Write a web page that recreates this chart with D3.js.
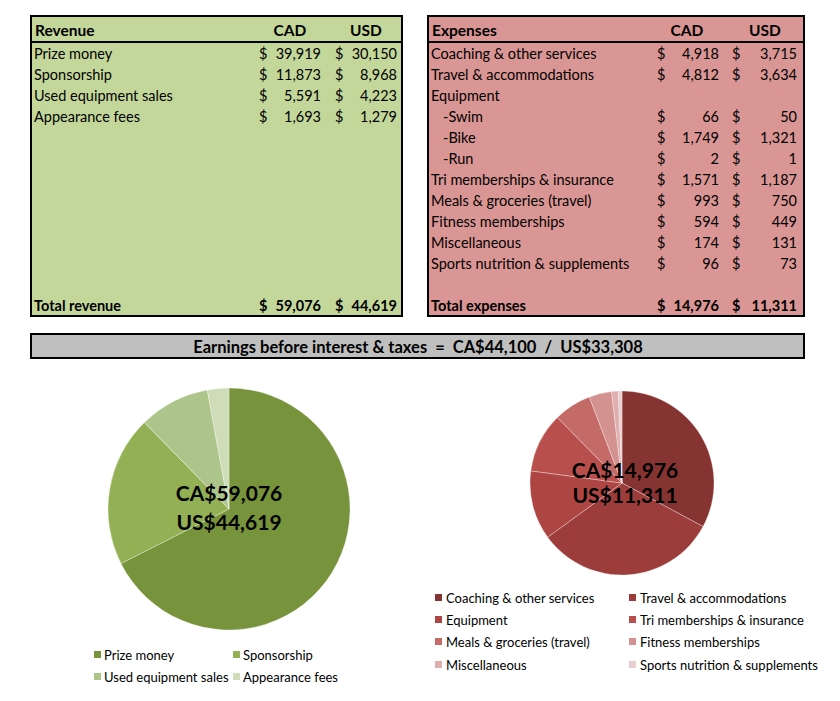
<!DOCTYPE html>
<html>
<head>
<meta charset="utf-8">
<script src="https://cdn.jsdelivr.net/npm/d3@7"></script>
<style>
html,body{margin:0;padding:0;background:#fff;}
svg{display:block;font-family:Lato, "Noto Sans", sans-serif;}
</style>
</head>
<body>
<svg id="chart" width="840" height="701"></svg>
<script>
// ---- data ----
const revenueCategories = ["Prize money","Sponsorship","Used equipment sales","Appearance fees"];
const revenueCAD = [39919, 11873, 5591, 1693];
const revenueUSD = [30150, 8968, 4223, 1279];
const revenueTotalCAD = 59076;
const revenueTotalUSD = 44619;

const expenseRows = ["Coaching & other services","Travel & accommodations","Equipment","-Swim","-Bike","-Run",
  "Tri memberships & insurance","Meals & groceries (travel)","Fitness memberships","Miscellaneous","Sports nutrition & supplements"];
const expenseRowCAD = [4918, 4812, null, 66, 1749, 2, 1571, 993, 594, 174, 96];
const expenseRowUSD = [3715, 3634, null, 50, 1321, 1, 1187, 750, 449, 131, 73];
const expenseRowIndent = [0,0,0,1,1,1,0,0,0,0,0];
const expenseTotalCAD = 14976;
const expenseTotalUSD = 11311;

const expenseCategories = ["Coaching & other services","Travel & accommodations","Equipment","Tri memberships & insurance",
  "Meals & groceries (travel)","Fitness memberships","Miscellaneous","Sports nutrition & supplements"];
const expenseCAD = [4918, 4812, 1817, 1571, 993, 594, 174, 96];

const ebitCAD = 44100;
const ebitUSD = 33308;

const revenueColors = ["#77933c","#93b154","#adc58a","#cfdcb8"];
const expenseColors = ["#863432","#9c3d3b","#ad4643","#b94f4c","#c46a67","#d39290","#ddafad","#e9cecd"];

// ---- drawing ----
const svg = d3.select("#chart");
const fmt = d3.format(",");

function drawTable(x0, x1, bg, title, rows, cad, usd, indent, totalLabel, totCAD, totUSD, cols) {
  const g = svg.append("g");
  g.append("rect").attr("x", x0).attr("y", 16).attr("width", x1 - x0).attr("height", 300)
    .attr("fill", bg).attr("stroke", "#000").attr("stroke-width", 2);
  g.append("line").attr("x1", x0).attr("x2", x1).attr("y1", 42).attr("y2", 42)
    .attr("stroke", "#000").attr("stroke-width", 2);
  const ty = 36;
  g.append("text").attr("x", x0 + 4).attr("y", ty).attr("font-weight", "bold").attr("font-size", 15.5).text(title);
  g.append("text").attr("x", cols.cadHead).attr("y", ty).attr("text-anchor", "middle").attr("font-weight", "bold").attr("font-size", 15.5).text("CAD");
  g.append("text").attr("x", cols.usdHead).attr("y", ty).attr("text-anchor", "middle").attr("font-weight", "bold").attr("font-size", 15.5).text("USD");
  const yScale = d3.scaleBand().domain(d3.range(11)).range([43, 274]);
  rows.forEach((r, i) => {
    const y = yScale(i) + yScale.bandwidth() / 2 + 5;
    g.append("text").attr("x", x0 + 3 + (indent[i] ? 12 : 0)).attr("y", y).attr("font-size", 14.5).text(r);
    if (cad[i] != null) {
      g.append("text").attr("x", cols.cad$).attr("y", y).attr("font-size", 14.5).text("$");
      g.append("text").attr("x", cols.cadR).attr("y", y).attr("text-anchor", "end").attr("font-size", 14.5).text(fmt(cad[i]));
      g.append("text").attr("x", cols.usd$).attr("y", y).attr("font-size", 14.5).text("$");
      g.append("text").attr("x", cols.usdR).attr("y", y).attr("text-anchor", "end").attr("font-size", 14.5).text(fmt(usd[i]));
    }
  });
  const yt = 311;
  g.append("text").attr("x", x0 + 3).attr("y", yt).attr("font-weight", "bold").attr("font-size", 14.5).text(totalLabel);
  g.append("text").attr("x", cols.cad$).attr("y", yt).attr("font-weight", "bold").attr("font-size", 14.5).text("$");
  g.append("text").attr("x", cols.cadR).attr("y", yt).attr("text-anchor", "end").attr("font-weight", "bold").attr("font-size", 14.5).text(fmt(totCAD));
  g.append("text").attr("x", cols.usd$).attr("y", yt).attr("font-weight", "bold").attr("font-size", 14.5).text("$");
  g.append("text").attr("x", cols.usdR).attr("y", yt).attr("text-anchor", "end").attr("font-weight", "bold").attr("font-size", 14.5).text(fmt(totUSD));
}

drawTable(31, 402, "#c4d79b", "Revenue", revenueCategories, revenueCAD, revenueUSD, [0,0,0,0],
  "Total revenue", revenueTotalCAD, revenueTotalUSD,
  {cadHead: 290, usdHead: 366, cad$: 259, cadR: 321, usd$: 335, usdR: 397});
drawTable(428, 804, "#da9694", "Expenses", expenseRows, expenseRowCAD, expenseRowUSD, expenseRowIndent,
  "Total expenses", expenseTotalCAD, expenseTotalUSD,
  {cadHead: 687, usdHead: 765, cad$: 657, cadR: 719, usd$: 732, usdR: 797});

// EBIT bar
svg.append("rect").attr("x", 31).attr("y", 334).attr("width", 773).attr("height", 24)
  .attr("fill", "#bfbfbf").attr("stroke", "#000").attr("stroke-width", 2);
svg.append("text").attr("x", 418).attr("y", 352.5).attr("text-anchor", "middle").attr("font-weight", "bold").attr("font-size", 16.5)
  .text("Earnings before interest & taxes  =  CA$" + fmt(ebitCAD) + "  /  US$" + fmt(ebitUSD));
svg.selectAll("text").attr("xml:space", "preserve").style("white-space", "pre");

// pies
function drawPie(cx, cy, r, values, colors) {
  const pie = d3.pie().sort(null).value(d => d)(values);
  const arc = d3.arc().innerRadius(0).outerRadius(r);
  const g = svg.append("g").attr("transform", `translate(${cx},${cy})`);
  g.selectAll("path").data(pie).join("path").attr("d", arc)
    .attr("fill", (d, i) => colors[i]).attr("stroke", "rgba(255,255,255,0.45)").attr("stroke-width", 0.7);
  return g;
}
const rg = drawPie(229, 509, 121, revenueCAD, revenueColors);
rg.append("text").attr("x", 0).attr("y", -8).attr("text-anchor", "middle").attr("font-weight", "bold").attr("font-size", 21).text("CA$" + fmt(revenueTotalCAD));
rg.append("text").attr("x", 0).attr("y", 21).attr("text-anchor", "middle").attr("font-weight", "bold").attr("font-size", 21).text("US$" + fmt(revenueTotalUSD));

const eg = drawPie(622, 483, 92, expenseCAD, expenseColors);
eg.append("text").attr("x", 3).attr("y", -5).attr("text-anchor", "middle").attr("font-weight", "bold").attr("font-size", 21).text("CA$" + fmt(expenseTotalCAD));
eg.append("text").attr("x", 3).attr("y", 20).attr("text-anchor", "middle").attr("font-weight", "bold").attr("font-size", 21).text("US$" + fmt(expenseTotalUSD));

// legends
function drawLegend(items, colors, colX, rowY, textOffset) {
  items.forEach((t, i) => {
    const x = colX[i % 2], y = rowY[Math.floor(i / 2)];
    svg.append("rect").attr("x", x).attr("y", y - 4).attr("width", 7).attr("height", 7).attr("fill", colors[i]);
    svg.append("text").attr("x", x + textOffset).attr("y", y + 4.5).attr("font-size", 13).text(t);
  });
}
drawLegend(revenueCategories, revenueColors, [94, 233], [655, 677], 10);
drawLegend(expenseCategories, expenseColors, [435, 629], [598, 620, 642, 665], 11);
</script>
</body>
</html>
